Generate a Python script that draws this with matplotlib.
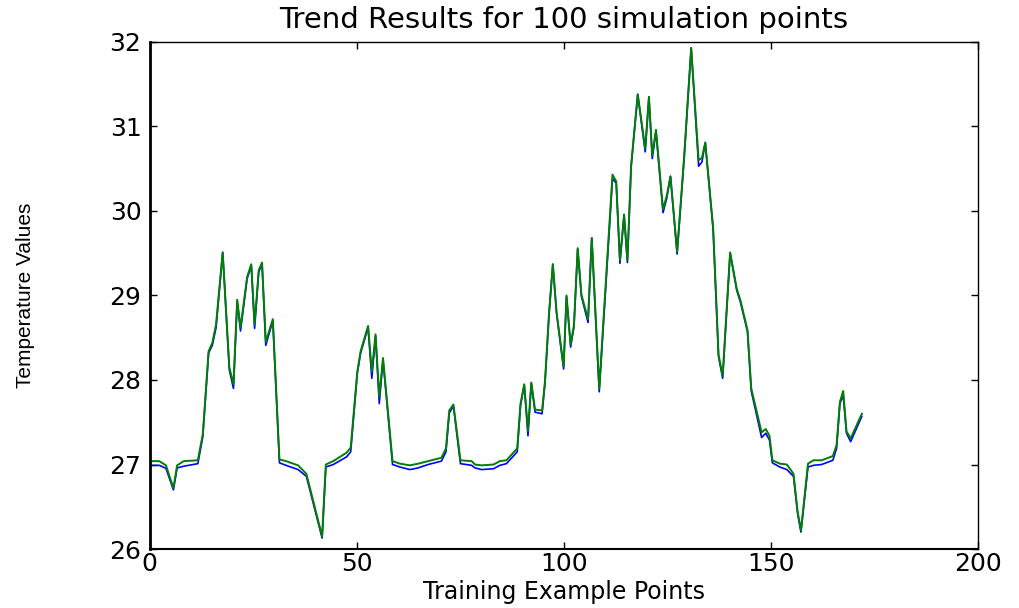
"""
Trend results plot: predicted (blue) vs. actual (green) temperature over the
training example points. Values read off the original figure.
"""

import matplotlib
matplotlib.use("Agg")
import matplotlib.pyplot as plt


# vertex positions along the x axis (training example points)
x_points = [
    0.3, 2.3, 3.9, 5.7, 6.6, 8.2, 11.6, 12.8, 14.2, 15.1, 16.0, 17.6, 19.2, 20.2,
    21.1, 21.9, 23.5, 24.5, 25.3, 26.3, 27.1, 28.0, 29.7, 31.3, 32.9,
    35.8, 37.8, 41.6, 42.5, 44.3, 47.5, 48.5, 50.1, 50.9, 52.7, 53.6, 54.5, 55.4,
    56.3, 58.6, 60.4, 62.8, 64.8, 67.2,
    70.4, 71.5, 72.3, 73.3, 75.0, 77.7, 78.5, 80.1, 83.0, 84.5, 86.1, 88.7, 89.5,
    90.4, 91.3, 92.1, 93.0, 94.7, 95.4, 96.4, 97.3, 98.2, 99.9, 100.6, 101.6,
    102.4, 103.3, 104.2, 105.8, 106.7, 108.5, 111.7, 112.6, 113.5, 114.5, 115.3,
    116.2, 117.8, 119.6, 120.5, 121.3, 122.2, 123.9, 124.8, 125.7, 127.3, 129.0,
    130.7, 132.5, 133.3, 134.1, 136.0, 137.3, 138.3, 140.1, 141.7, 142.6, 144.3,
    145.2, 147.7, 148.7, 149.6, 150.3, 152.1, 153.8, 155.4, 156.4, 157.2, 158.9,
    160.2, 162.2, 164.9, 165.8, 166.6, 167.4, 168.2, 169.2, 171.9,
]

# blue series
predicted = [
    26.99, 26.99, 26.955, 26.70, 26.96, 26.98, 27.01, 27.33, 28.32, 28.41, 28.62,
    29.51, 28.12, 27.90, 28.93, 28.58, 29.20, 29.35, 28.61, 29.28, 29.37, 28.41,
    28.70, 27.02, 26.99,
    26.94, 26.86, 26.13, 26.97, 27.00, 27.09, 27.15, 28.08, 28.32, 28.62, 28.02,
    28.52, 27.72, 28.24, 27.00, 26.97, 26.94, 26.96, 27.00,
    27.04, 27.15, 27.61, 27.69, 27.01, 26.99, 26.96, 26.94, 26.95, 26.99, 27.01,
    27.15, 27.70, 27.94, 27.34, 27.96, 27.62, 27.60, 27.96, 28.79, 29.37, 28.79,
    28.13, 28.99, 28.39, 28.63, 29.55, 28.99, 28.68, 29.68, 27.86, 30.38, 30.33,
    29.38, 29.95, 29.39, 30.52, 31.38, 30.70, 31.35, 30.62, 30.94, 29.98, 30.15,
    30.41, 29.49, 30.62, 31.93, 30.53, 30.58, 30.81, 29.78, 28.28, 28.02, 29.50,
    29.06, 28.92, 28.57, 27.87, 27.32, 27.37, 27.29, 27.02, 26.97, 26.94, 26.86,
    26.42, 26.20, 26.97, 26.99, 27.00, 27.05, 27.19, 27.72, 27.82, 27.37, 27.27,
    27.57,
]

# green series
actual = [
    27.04, 27.04, 26.99, 26.72, 26.99, 27.04, 27.05, 27.36, 28.34, 28.44, 28.66,
    29.51, 28.15, 27.95, 28.95, 28.62, 29.22, 29.37, 28.66, 29.30, 29.39, 28.45,
    28.72, 27.06, 27.04,
    26.99, 26.89, 26.15, 27.00, 27.04, 27.14, 27.20, 28.10, 28.34, 28.64, 28.10,
    28.54, 27.80, 28.26, 27.04, 27.01, 26.99, 27.01, 27.04,
    27.08, 27.19, 27.64, 27.71, 27.05, 27.04, 27.00, 26.99, 27.00, 27.04, 27.05,
    27.19, 27.72, 27.95, 27.40, 27.97, 27.65, 27.64, 27.98, 28.80, 29.37, 28.80,
    28.16, 29.00, 28.42, 28.65, 29.56, 29.01, 28.72, 29.68, 27.90, 30.43, 30.35,
    29.42, 29.96, 29.42, 30.54, 31.38, 30.74, 31.35, 30.66, 30.96, 30.02, 30.18,
    30.41, 29.52, 30.64, 31.93, 30.60, 30.63, 30.81, 29.80, 28.30, 28.05, 29.51,
    29.08, 28.94, 28.59, 27.90, 27.38, 27.42, 27.34, 27.05, 27.01, 27.00, 26.89,
    26.44, 26.22, 27.01, 27.05, 27.05, 27.10, 27.23, 27.74, 27.87, 27.39, 27.31,
    27.60,
]

x_ticks = [0, 50, 100, 150, 200]
y_ticks = [26, 27, 28, 29, 30, 31, 32]

TITLE = "Trend Results for 100 simulation points"
XLABEL = "Training Example Points"
YLABEL = "Temperature Values"


def main():
    fig = plt.figure(figsize=(10.19, 6.08), dpi=100)
    ax = fig.add_axes([0.147, 0.097, 0.813, 0.834])

    ax.plot(x_points, predicted, color="#0000ff", lw=1.2)
    ax.plot(x_points, actual, color="#007f00", lw=1.4)

    ax.set_xlim(0, 200)
    ax.set_ylim(26, 32)
    ax.set_xticks(x_ticks)
    ax.set_yticks(y_ticks)
    ax.tick_params(direction="in", length=5, width=1, top=True, right=True,
                   labelsize=18)
    ax.tick_params(axis="x", pad=2)
    ax.tick_params(axis="y", pad=6)
    for lab in ax.get_xticklabels() + ax.get_yticklabels():
        lab.set_family("DejaVu Sans")
    for side in ["top", "right"]:
        ax.spines[side].set_linewidth(1.0)
    ax.spines["left"].set_linewidth(2.0)
    ax.spines["bottom"].set_linewidth(1.5)

    ax.set_title(TITLE, fontsize=21, family="DejaVu Sans", pad=10)
    ax.set_xlabel(XLABEL, fontsize=17, family="DejaVu Sans")
    ax.xaxis.set_label_coords(0.5, -0.062)
    ax.set_ylabel(YLABEL, fontsize=15, family="Liberation Sans")
    ax.yaxis.set_label_coords(-0.139, 0.5)

    fig.savefig("out.png", dpi=100)
    plt.close(fig)


if __name__ == "__main__":
    main()
